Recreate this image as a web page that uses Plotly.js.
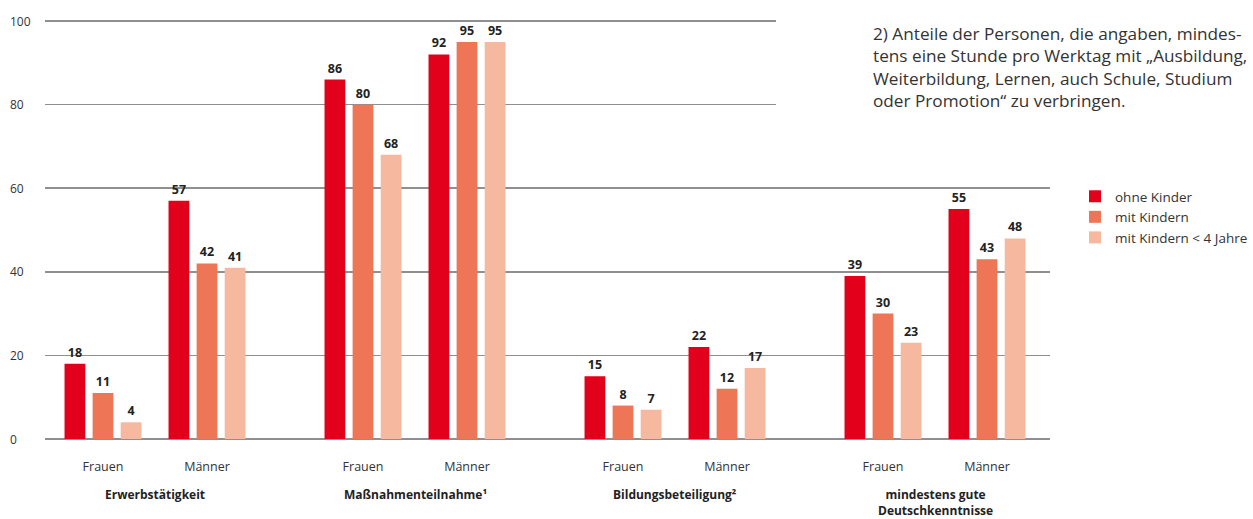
<!DOCTYPE html>
<html><head><meta charset="utf-8">
<script src="https://cdn.plot.ly/plotly-3.0.1.min.js"></script>
<style>html,body{margin:0;padding:0;background:#fff}#chart{width:1253px;height:519px}</style>
</head><body><div id="chart"></div>
<script>
const groups = ["Erwerbstätigkeit", "Maßnahmenteilnahme¹", "Bildungsbeteiligung²", "mindestens gute<br>Deutschkenntnisse"];
const sexes = ["Frauen", "Männer"];
const seriesNames = ["ohne Kinder", "mit Kindern", "mit Kindern < 4 Jahre"];
// values per series, order: [G1 Frauen, G1 Männer, G2 Frauen, G2 Männer, ...]
const ohneKinder = [18, 57, 86, 92, 15, 22, 39, 55];
const mitKindern = [11, 42, 80, 95, 8, 12, 30, 43];
const mitKindernU4 = [4, 41, 68, 95, 7, 17, 23, 48];
const yTicks = [0, 20, 40, 60, 80, 100];
const footnote = "2) Anteile der Personen, die angaben, mindes-<br>tens eine Stunde pro Werktag mit „Ausbildung,<br>Weiterbildung, Lernen, auch Schule, Studium<br>oder Promotion“ zu verbringen.";

const colors = ["#e2001a", "#ee7555", "#f6b9a0"];
const FONT = "Open Sans, Noto Sans, sans-serif";

// slot positions: each group uses 5 slots; Frauen at 0, Männer at 2
const xPos = [], xLabels = [];
groups.forEach((g, gi) => sexes.forEach((s, si) => { xPos.push(gi * 5 + si * 2); xLabels.push(s); }));

const allSeries = [ohneKinder, mitKindern, mitKindernU4];
const traces = allSeries.map((vals, i) => ({
  type: "bar", name: seriesNames[i], x: xPos, y: vals,
  marker: {color: colors[i], line: {width: 0}},
  text: vals.map(String), textposition: "outside", cliponaxis: false,
  textfont: {family: FONT, size: 12.5, color: "#222", weight: 700},
  hoverinfo: "skip"
}));

const L = 45, R = 1050, T = 20, B = 439;
const pw = R - L, ph = B - T;
const YMAX = 100.25;
const annotations = [];
yTicks.forEach(v => annotations.push({
  xref: "paper", yref: "y", x: (8 - L) / pw, y: v, xanchor: "left", yanchor: "middle",
  text: String(v), showarrow: false, font: {family: FONT, size: 12, color: "#333"}
}));
groups.forEach((g, gi) => annotations.push({
  xref: "x", yref: "paper", x: gi * 5 + 1, y: 0, yanchor: "top", yshift: -45,
  text: "<b>" + g + "</b>", showarrow: false, align: "center",
  font: {family: FONT, size: 12, color: "#222"}
}));
annotations.push({
  xref: "paper", yref: "paper", x: (871 - L) / pw, y: (439 - 20) / ph, xanchor: "left", yanchor: "top",
  text: footnote, showarrow: false, align: "left",
  font: {family: FONT, size: 17.2, color: "#333"}
});

const layout = {
  width: 1253, height: 519,
  margin: {l: L, r: 1253 - R, t: T, b: 519 - B, autoexpand: false},
  paper_bgcolor: "#fff", plot_bgcolor: "#fff",
  barmode: "group", bargap: 0.19, bargroupgap: 0.26,
  showlegend: true,
  legend: {x: (1075 - L) / pw, y: (439 - 181) / ph, xanchor: "left", yanchor: "top",
    font: {family: FONT, size: 13.5, color: "#333"}, tracegroupgap: 0, itemwidth: 30,
    bgcolor: "rgba(0,0,0,0)"},
  xaxis: {
    range: [-58 / 52, (R - 103) / 52], tickvals: xPos, ticktext: xLabels,
    showgrid: false, zeroline: false, showline: false, ticks: "",
    tickfont: {family: FONT, size: 12.5, color: "#333"}, ticklabelstandoff: 18, fixedrange: true
  },
  yaxis: {
    range: [0, YMAX], tickvals: yTicks, showticklabels: false,
    showgrid: true, gridcolor: "#8f8f8f", gridwidth: 1.6,
    zeroline: true, zerolinecolor: "#8f8f8f", zerolinewidth: 1.6,
    showline: false, ticks: "", fixedrange: true
  },
  shapes: [{type: "rect", xref: "paper", yref: "y", x0: (776 - L) / pw, x1: 1.01, y0: 70, y1: YMAX + 2,
    fillcolor: "#fff", line: {width: 0}, layer: "above"}],
  annotations: annotations,
  font: {family: FONT}
};

Plotly.newPlot("chart", traces, layout, {displayModeBar: false, staticPlot: true});
</script></body></html>
